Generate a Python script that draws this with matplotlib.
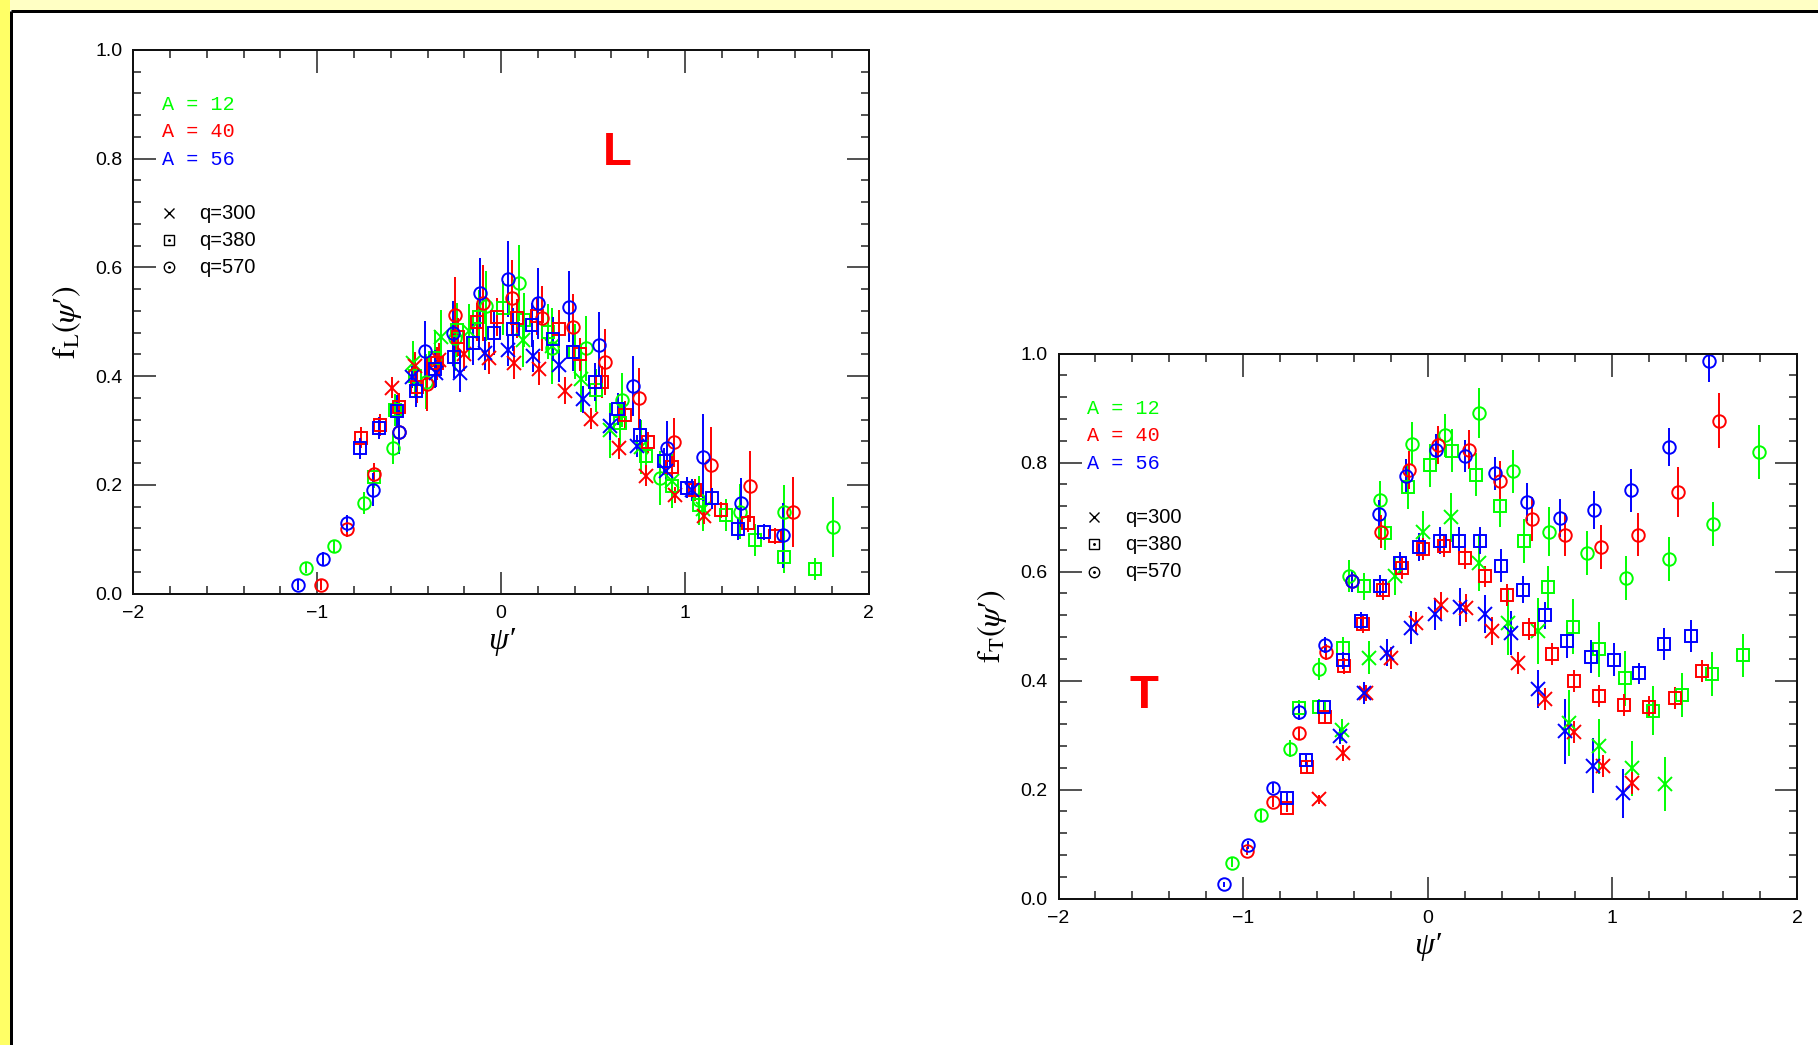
import matplotlib
matplotlib.use("Agg")
import matplotlib.pyplot as plt
from matplotlib.patches import Rectangle
from matplotlib.lines import Line2D
from matplotlib.ticker import MultipleLocator

# ---------------------------------------------------------------- data
# Longitudinal response f_L(psi')
L_A12_q300_x = [-0.48, -0.326, -0.177, 0.122, 0.276, 0.436, 0.594, 0.76, 0.93, 1.10]
L_A12_q300_y = [0.425, 0.4725, 0.4835, 0.466, 0.455, 0.394, 0.300, 0.27, 0.207, 0.155]
L_A12_q300_e = [0.04, 0.05, 0.05, 0.05, 0.07, 0.06, 0.05, 0.05, 0.05, 0.04]

L_A12_q380_x = [-0.69, -0.576, -0.47, -0.36, -0.24, -0.12, 0.010, 0.126, 0.258, 0.40,
                0.517, 0.648, 0.79, 0.929, 1.074, 1.223, 1.379, 1.537, 1.705]
L_A12_q380_y = [0.215, 0.338, 0.40, 0.434, 0.485, 0.508, 0.525, 0.503, 0.482, 0.445,
                0.374, 0.313, 0.253, 0.197, 0.163, 0.1445, 0.0986, 0.068, 0.045]
L_A12_q380_e = [0.02, 0.03, 0.04, 0.05, 0.05, 0.05, 0.05, 0.05, 0.05, 0.05,
                0.04, 0.04, 0.04, 0.04, 0.03, 0.03, 0.03, 0.03, 0.02]

L_A12_q570_x = [-1.062, -0.906, -0.746, -0.589, -0.41, -0.25, -0.081, 0.095, 0.276, 0.463,
                0.657, 0.866, 1.079, 1.30, 1.54, 1.803]
L_A12_q570_y = [0.048, 0.0875, 0.166, 0.268, 0.39, 0.47, 0.529, 0.572, 0.451, 0.451,
                0.356, 0.213, 0.172, 0.151, 0.1495, 0.123]
L_A12_q570_e = [0.01, 0.012, 0.02, 0.03, 0.05, 0.06, 0.065, 0.07, 0.06, 0.06,
                0.05, 0.05, 0.045, 0.05, 0.05, 0.055]

L_A40_q300_x = [-0.591, -0.467, -0.34, -0.201, -0.065, 0.071, 0.209, 0.349, 0.491, 0.639,
                0.79, 0.947, 1.105]
L_A40_q300_y = [0.379, 0.419, 0.43, 0.44, 0.433, 0.425, 0.414, 0.373, 0.322, 0.267,
                0.217, 0.181, 0.143]
L_A40_q300_e = [0.02, 0.025, 0.03, 0.03, 0.03, 0.03, 0.03, 0.025, 0.02, 0.02,
                0.02, 0.015, 0.015]

L_A40_q380_x = [-0.761, -0.66, -0.555, -0.455, -0.346, -0.232, -0.132, -0.023, 0.086, 0.198,
                0.316, 0.43, 0.548, 0.672, 0.797, 0.929, 1.056, 1.197, 1.341, 1.488]
L_A40_q380_y = [0.287, 0.31, 0.344, 0.38, 0.4235, 0.4725, 0.500, 0.509, 0.506, 0.5106,
                0.486, 0.44, 0.389, 0.329, 0.278, 0.233, 0.19, 0.154, 0.129, 0.1065]
L_A40_q380_e = [0.02, 0.02, 0.025, 0.03, 0.03, 0.035, 0.035, 0.035, 0.035, 0.035,
                0.035, 0.03, 0.03, 0.025, 0.02, 0.02, 0.02, 0.015, 0.015, 0.015]

L_A40_q570_x = [-0.979, -0.837, -0.693, -0.553, -0.404, -0.25, -0.099, 0.059, 0.222, 0.391,
                0.566, 0.748, 0.942, 1.141, 1.355, 1.586]
L_A40_q570_y = [0.016, 0.119, 0.2205, 0.297, 0.385, 0.512, 0.535, 0.543, 0.506, 0.491,
                0.426, 0.36, 0.278, 0.2365, 0.197, 0.150]
L_A40_q570_e = [0.01, 0.015, 0.02, 0.025, 0.05, 0.07, 0.07, 0.07, 0.06, 0.06,
                0.06, 0.055, 0.045, 0.07, 0.065, 0.065]

L_A56_q300_x = [-0.485, -0.355, -0.222, -0.087, 0.040, 0.176, 0.316, 0.448, 0.594, 0.742,
                0.898, 1.04]
L_A56_q300_y = [0.398, 0.405, 0.406, 0.442, 0.448, 0.437, 0.420, 0.357, 0.308, 0.272,
                0.225, 0.19]
L_A56_q300_e = [0.02, 0.025, 0.035, 0.03, 0.03, 0.03, 0.03, 0.025, 0.025, 0.02,
                0.02, 0.02]

L_A56_q380_x = [-0.767, -0.662, -0.567, -0.462, -0.358, -0.255, -0.150, -0.041, 0.064, 0.168,
                0.285, 0.391, 0.512, 0.634, 0.753, 0.884, 1.011, 1.147, 1.286, 1.428]
L_A56_q380_y = [0.267, 0.305, 0.336, 0.373, 0.4125, 0.436, 0.460, 0.479, 0.486, 0.494,
                0.468, 0.445, 0.390, 0.3395, 0.292, 0.243, 0.195, 0.175, 0.119, 0.113]
L_A56_q380_e = [0.02, 0.02, 0.03, 0.03, 0.035, 0.04, 0.04, 0.04, 0.04, 0.04,
                0.04, 0.035, 0.035, 0.03, 0.03, 0.025, 0.02, 0.02, 0.02, 0.015]

L_A56_q570_x = [-1.106, -0.970, -0.837, -0.694, -0.553, -0.413, -0.262, -0.114, 0.040, 0.203,
                0.367, 0.535, 0.717, 0.902, 1.101, 1.306, 1.533]
L_A56_q570_y = [0.016, 0.064, 0.129, 0.191, 0.297, 0.447, 0.479, 0.553, 0.578, 0.534,
                0.528, 0.458, 0.382, 0.267, 0.251, 0.167, 0.107]
L_A56_q570_e = [0.01, 0.012, 0.015, 0.03, 0.04, 0.055, 0.06, 0.065, 0.07, 0.065,
                0.065, 0.06, 0.055, 0.05, 0.08, 0.045, 0.06]

# Transverse response f_T(psi')
T_A12_q300_x = [-0.467, -0.32, -0.175, -0.025, 0.125, 0.275, 0.434, 0.596, 0.764, 0.926,
                1.106, 1.286]
T_A12_q300_y = [0.309, 0.442, 0.592, 0.672, 0.700, 0.615, 0.506, 0.491, 0.322, 0.279,
                0.239, 0.210]
T_A12_q300_e = [0.02, 0.03, 0.035, 0.04, 0.045, 0.05, 0.06, 0.06, 0.06, 0.05, 0.05, 0.05]

T_A12_q380_x = [-0.695, -0.587, -0.461, -0.347, -0.229, -0.109, 0.011, 0.134, 0.26, 0.389,
                0.521, 0.650, 0.785, 0.926, 1.070, 1.220, 1.376, 1.541, 1.706]
T_A12_q380_y = [0.349, 0.351, 0.459, 0.573, 0.670, 0.755, 0.795, 0.822, 0.778, 0.721,
                0.656, 0.571, 0.499, 0.457, 0.404, 0.345, 0.374, 0.412, 0.446]
T_A12_q380_e = [0.015, 0.015, 0.02, 0.025, 0.03, 0.04, 0.04, 0.04, 0.04, 0.04,
                0.04, 0.04, 0.05, 0.05, 0.05, 0.045, 0.04, 0.04, 0.04]

T_A12_q570_x = [-1.061, -0.905, -0.746, -0.587, -0.425, -0.257, -0.086, 0.095, 0.275, 0.461,
                0.659, 0.860, 1.076, 1.304, 1.544, 1.796]
T_A12_q570_y = [0.066, 0.153, 0.275, 0.421, 0.592, 0.732, 0.835, 0.850, 0.891, 0.784,
                0.673, 0.634, 0.588, 0.623, 0.687, 0.819]
T_A12_q570_e = [0.008, 0.01, 0.015, 0.02, 0.03, 0.035, 0.04, 0.04, 0.045, 0.04,
                0.045, 0.04, 0.04, 0.04, 0.04, 0.05]

T_A40_q300_x = [-0.590, -0.461, -0.335, -0.200, -0.065, 0.071, 0.209, 0.350, 0.491, 0.635,
                0.791, 0.950, 1.109]
T_A40_q300_y = [0.182, 0.267, 0.377, 0.442, 0.506, 0.538, 0.533, 0.491, 0.432, 0.366,
                0.305, 0.243, 0.212]
T_A40_q300_e = [0.008, 0.015, 0.015, 0.02, 0.02, 0.025, 0.025, 0.025, 0.02, 0.02,
                0.02, 0.02, 0.02]

T_A40_q380_x = [-0.761, -0.656, -0.557, -0.455, -0.35, -0.242, -0.137, -0.026, 0.086, 0.200,
                0.311, 0.431, 0.551, 0.671, 0.794, 0.926, 1.061, 1.196, 1.340, 1.484]
T_A40_q380_y = [0.167, 0.241, 0.333, 0.427, 0.503, 0.567, 0.607, 0.642, 0.647, 0.624,
                0.591, 0.557, 0.495, 0.449, 0.399, 0.372, 0.355, 0.352, 0.368, 0.418]
T_A40_q380_e = [0.008, 0.01, 0.012, 0.015, 0.015, 0.02, 0.02, 0.02, 0.02, 0.02,
                0.02, 0.02, 0.02, 0.02, 0.02, 0.02, 0.02, 0.02, 0.02, 0.02]

T_A40_q570_x = [-0.980, -0.836, -0.695, -0.551, -0.41, -0.251, -0.101, 0.056, 0.221, 0.389,
                0.566, 0.746, 0.941, 1.139, 1.355, 1.580]
T_A40_q570_y = [0.087, 0.178, 0.303, 0.452, 0.582, 0.673, 0.787, 0.833, 0.824, 0.767,
                0.696, 0.668, 0.645, 0.668, 0.746, 0.877]
T_A40_q570_e = [0.008, 0.01, 0.012, 0.015, 0.02, 0.03, 0.035, 0.035, 0.035, 0.035,
                0.04, 0.04, 0.04, 0.04, 0.045, 0.05]

T_A56_q300_x = [-0.475, -0.347, -0.221, -0.092, 0.041, 0.176, 0.311, 0.449, 0.596, 0.746,
                0.896, 1.055]
T_A56_q300_y = [0.298, 0.377, 0.451, 0.497, 0.522, 0.535, 0.522, 0.487, 0.385, 0.307,
                0.244, 0.193]
T_A56_q300_e = [0.015, 0.02, 0.025, 0.03, 0.03, 0.035, 0.035, 0.04, 0.035, 0.06,
                0.05, 0.045]

T_A56_q380_x = [-0.761, -0.662, -0.560, -0.461, -0.362, -0.257, -0.152, -0.047, 0.065, 0.170,
                0.284, 0.395, 0.515, 0.635, 0.755, 0.884, 1.010, 1.145, 1.280, 1.424]
T_A56_q380_y = [0.184, 0.254, 0.351, 0.437, 0.510, 0.573, 0.615, 0.645, 0.657, 0.657,
                0.657, 0.611, 0.567, 0.520, 0.472, 0.444, 0.438, 0.413, 0.467, 0.482]
T_A56_q380_e = [0.01, 0.01, 0.012, 0.015, 0.015, 0.02, 0.02, 0.025, 0.025, 0.025,
                0.025, 0.03, 0.025, 0.025, 0.03, 0.03, 0.03, 0.02, 0.03, 0.03]

T_A56_q570_x = [-1.106, -0.971, -0.836, -0.695, -0.557, -0.410, -0.266, -0.116, 0.044, 0.200,
                0.365, 0.536, 0.716, 0.899, 1.10, 1.304, 1.526]
T_A56_q570_y = [0.026, 0.098, 0.203, 0.342, 0.465, 0.582, 0.706, 0.776, 0.823, 0.812,
                0.780, 0.727, 0.699, 0.713, 0.749, 0.828, 0.987]
T_A56_q570_e = [0.005, 0.008, 0.01, 0.015, 0.015, 0.02, 0.025, 0.03, 0.03, 0.03,
                0.03, 0.035, 0.035, 0.035, 0.04, 0.035, 0.04]

nuclei = ["A = 12", "A = 40", "A = 56"]
momenta = ["q=300", "q=380", "q=570"]
x_ticks = [-2, -1, 0, 1, 2]
y_ticks = [0.0, 0.2, 0.4, 0.6, 0.8, 1.0]

# ---------------------------------------------------------------- style
W, H, DPI = 1818, 1045, 100
GREEN, RED, BLUE = "#00ff00", "#ff0000", "#0000ff"
COLORS = [GREEN, RED, BLUE]
MARKERS = {"x": 9.5, "s": 8.0, "o": 9.0}
PX = 72.0 / DPI  # points per pixel
SERIF = ["Liberation Serif", "DejaVu Serif"]

plt.rcParams["mathtext.fontset"] = "stix"
plt.rcParams["font.family"] = ["Liberation Sans", "DejaVu Sans"]

fig = plt.figure(figsize=(W / DPI, H / DPI), dpi=DPI)
fig.patch.set_facecolor("white")

# page frame: yellow margins with a black edge on the top and left
fig.add_artist(Rectangle((0, 0), 10 / W, 1, transform=fig.transFigure,
                         facecolor="#ffff66", edgecolor="none", zorder=0))
fig.add_artist(Rectangle((10 / W, 1 - 10 / H), 1, 10 / H, transform=fig.transFigure,
                         facecolor="#ffffc4", edgecolor="none", zorder=0))
fig.add_artist(Line2D([10.5 / W, 10.5 / W], [0, 1 - 10.5 / H], transform=fig.transFigure,
                      color="black", lw=3 * PX, solid_capstyle="butt"))
fig.add_artist(Line2D([10.5 / W, 1], [1 - 10.5 / H, 1 - 10.5 / H], transform=fig.transFigure,
                      color="black", lw=3 * PX, solid_capstyle="butt"))


def style_axes(ax, sub):
    ax.set_xlim(-2, 2)
    ax.set_ylim(0, 1)
    ax.set_xticks(x_ticks)
    ax.set_yticks(y_ticks)
    ax.set_yticklabels([f"{v:.1f}" for v in y_ticks])
    ax.xaxis.set_minor_locator(MultipleLocator(0.2))
    ax.yaxis.set_minor_locator(MultipleLocator(0.04))
    ax.tick_params(which="both", direction="in", top=True, right=True,
                   width=1.1, color="#222222", labelsize=14, pad=8)
    ax.tick_params(which="major", length=22.5 * PX)
    ax.tick_params(which="minor", length=7.7 * PX)
    for sp in ax.spines.values():
        sp.set_linewidth(2.0 * PX)
        sp.set_color("#111111")
    ax.set_xlabel("\u03c8\u2032", fontsize=23, family=SERIF, style="italic", labelpad=4)
    ax.set_ylabel(r"$\mathrm{f}_{\mathrm{" + sub + r"}}(\psi$" + "\u2032" + r"$)$",
                  fontsize=23, family=SERIF, labelpad=8)


def draw(ax, x, y, e, color, marker):
    ax.errorbar(x, y, yerr=e, fmt=marker, ms=MARKERS[marker], mfc="none",
                mec=color, mew=1.4, ecolor=color, elinewidth=1.4, capsize=0,
                linestyle="none")


def legend_block(ax):
    for i, (label, color) in enumerate(zip(nuclei, COLORS)):
        ax.text(-1.845, 0.899 - 0.05 * i, label, color=color, fontsize=14.5,
                family=["Liberation Mono", "DejaVu Sans Mono"], va="center", ha="left")
    for i, (label, marker) in enumerate(zip(momenta, ["x", "s", "o"])):
        yy = 0.700 - 0.05 * i
        ax.plot([-1.806], [yy], marker=marker, ms=7.5, mfc="none", mec="black",
                mew=1.0, linestyle="none")
        if marker != "x":
            ax.plot([-1.806], [yy], marker=".", ms=2.2, color="black", linestyle="none")
        ax.text(-1.641, yy, label, fontsize=14.5, va="center", ha="left")


def panel(ax, data, sub, tag, tag_xy):
    style_axes(ax, sub)
    for color, series in zip(COLORS, data):
        for marker, (x, y, e) in zip(["x", "s", "o"], series):
            draw(ax, x, y, e, color, marker)
    legend_block(ax)
    ax.text(tag_xy[0], tag_xy[1], tag, color=RED, fontsize=34, fontweight="bold",
            ha="center", va="center")


axL = fig.add_axes([133.3 / W, 1 - 593.6 / H, 735.5 / W, 543.7 / H])
axT = fig.add_axes([1058.5 / W, 1 - 898.5 / H, 738.5 / W, 544.9 / H])

panel(axL,
      [[(L_A12_q300_x, L_A12_q300_y, L_A12_q300_e),
        (L_A12_q380_x, L_A12_q380_y, L_A12_q380_e),
        (L_A12_q570_x, L_A12_q570_y, L_A12_q570_e)],
       [(L_A40_q300_x, L_A40_q300_y, L_A40_q300_e),
        (L_A40_q380_x, L_A40_q380_y, L_A40_q380_e),
        (L_A40_q570_x, L_A40_q570_y, L_A40_q570_e)],
       [(L_A56_q300_x, L_A56_q300_y, L_A56_q300_e),
        (L_A56_q380_x, L_A56_q380_y, L_A56_q380_e),
        (L_A56_q570_x, L_A56_q570_y, L_A56_q570_e)]],
      "L", "L", (0.632, 0.81))

panel(axT,
      [[(T_A12_q300_x, T_A12_q300_y, T_A12_q300_e),
        (T_A12_q380_x, T_A12_q380_y, T_A12_q380_e),
        (T_A12_q570_x, T_A12_q570_y, T_A12_q570_e)],
       [(T_A40_q300_x, T_A40_q300_y, T_A40_q300_e),
        (T_A40_q380_x, T_A40_q380_y, T_A40_q380_e),
        (T_A40_q570_x, T_A40_q570_y, T_A40_q570_e)],
       [(T_A56_q300_x, T_A56_q300_y, T_A56_q300_e),
        (T_A56_q380_x, T_A56_q380_y, T_A56_q380_e),
        (T_A56_q570_x, T_A56_q570_y, T_A56_q570_e)]],
      "T", "T", (-1.535, 0.372))

fig.savefig("out.png", dpi=DPI)
